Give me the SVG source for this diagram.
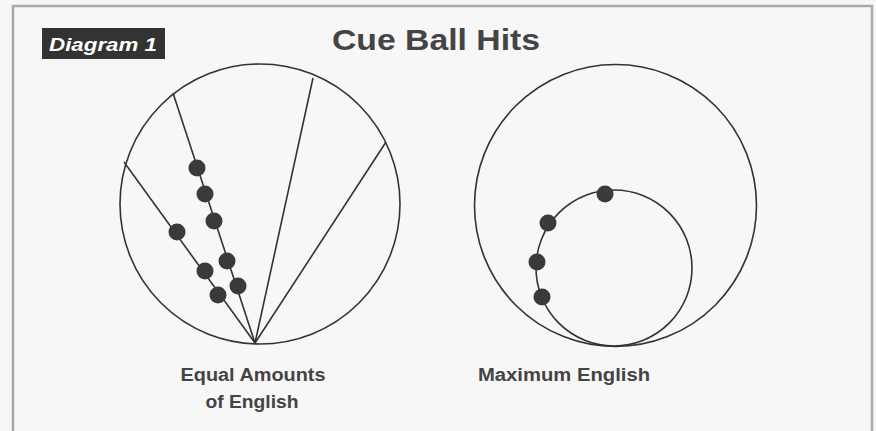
<svg xmlns="http://www.w3.org/2000/svg" width="876" height="431" viewBox="0 0 876 431">
<style>
.ln{stroke:#333;stroke-width:1.6;fill:none}
.ball{fill:#3a3a3a}
.lbl{font-family:"Liberation Sans",Arial,sans-serif;font-weight:bold;fill:#444}
</style>
<rect x="0" y="0" width="876" height="431" fill="#f7f7f7"/>
<path d="M13,431 V6 H872 V431" fill="none" stroke="#a8a8a8" stroke-width="2.5"/>
<g id="badge">
<rect x="42" y="28" width="123" height="31" fill="#333"/>
<text x="103" y="51" text-anchor="middle" font-family="Liberation Sans,Arial,sans-serif" font-weight="bold" font-style="italic" font-size="19" fill="#fff" textLength="108" lengthAdjust="spacingAndGlyphs">Diagram 1</text>
</g>
<g id="title">
<text class="lbl" x="436" y="50" text-anchor="middle" font-size="30" textLength="208" lengthAdjust="spacingAndGlyphs" fill="#3a3a3a">Cue Ball Hits</text>
</g>
<g id="left-ball">
<circle class="ln" cx="260" cy="204" r="140"/>
</g>
<g id="connectors">
<line class="ln" x1="255" y1="343" x2="173" y2="93"/>
<line class="ln" x1="255" y1="343" x2="124" y2="162"/>
<line class="ln" x1="255" y1="343" x2="313" y2="78"/>
<line class="ln" x1="255" y1="343" x2="386" y2="142"/>
</g>
<g id="left-balls">
<circle class="ball" cx="197" cy="168" r="8.5"/>
<circle class="ball" cx="205" cy="194" r="8.5"/>
<circle class="ball" cx="214" cy="221" r="8.5"/>
<circle class="ball" cx="227" cy="261" r="8.5"/>
<circle class="ball" cx="238" cy="286" r="8.5"/>
<circle class="ball" cx="177" cy="232" r="8.5"/>
<circle class="ball" cx="205" cy="271" r="8.5"/>
<circle class="ball" cx="218" cy="295" r="8.5"/>
</g>
<g id="left-label">
<text class="lbl" x="253" y="381" text-anchor="middle" font-size="18" textLength="145" lengthAdjust="spacingAndGlyphs">Equal Amounts</text>
<text class="lbl" x="252" y="408" text-anchor="middle" font-size="18" textLength="93" lengthAdjust="spacingAndGlyphs">of English</text>
</g>
<g id="right-ball">
<circle class="ln" cx="615.5" cy="205.5" r="141"/>
<circle class="ln" cx="614" cy="268" r="78"/>
</g>
<g id="right-balls">
<circle class="ball" cx="605" cy="194" r="8.5"/>
<circle class="ball" cx="548" cy="223" r="8.5"/>
<circle class="ball" cx="537" cy="262" r="8.5"/>
<circle class="ball" cx="542" cy="297" r="8.5"/>
</g>
<g id="right-label">
<text class="lbl" x="564" y="381" text-anchor="middle" font-size="18" textLength="172" lengthAdjust="spacingAndGlyphs">Maximum English</text>
</g>
</svg>
